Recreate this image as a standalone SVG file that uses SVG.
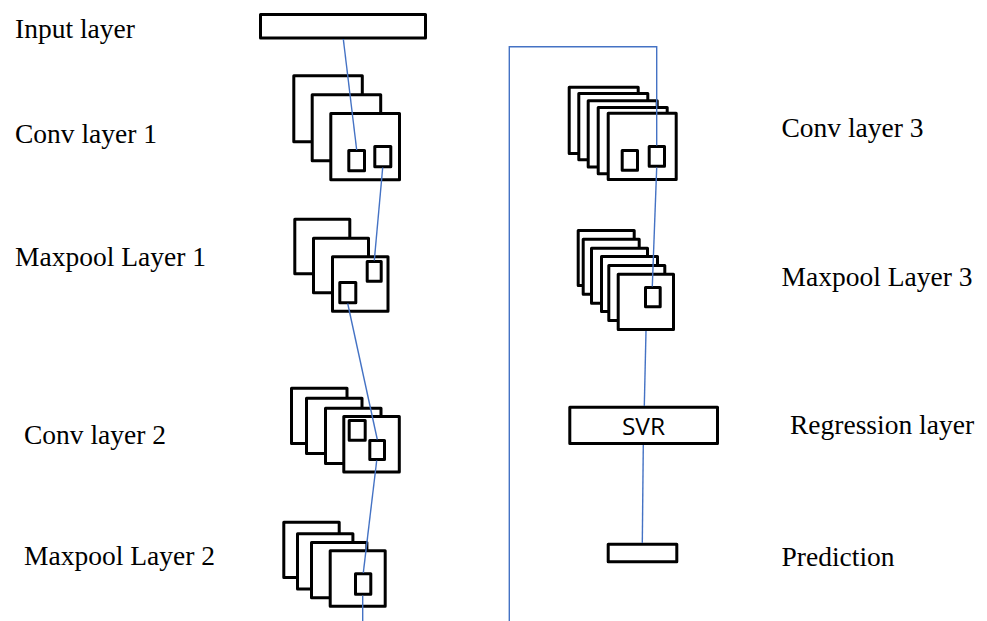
<svg xmlns="http://www.w3.org/2000/svg" width="987" height="621" viewBox="0 0 987 621">
  <style>
    .box { fill: #ffffff; stroke: #000000; stroke-width: 3; stroke-linejoin: round; }
    .lbl { font-family: "Liberation Serif", "Times New Roman", serif; font-size: 27.5px; fill: #000000; }
    .inner { font-family: "Open Sans", "Liberation Sans", sans-serif; font-size: 24.5px; fill: #000000; text-anchor: middle; }
    .link { fill: none; stroke: #4472C4; stroke-width: 1.4; }
  </style>
  <rect width="987" height="621" fill="#ffffff"/>

  <!-- labels -->
  <g id="labels">
    <text class="lbl" x="15" y="37.5">Input layer</text>
    <text class="lbl" x="15" y="142.5">Conv layer 1</text>
    <text class="lbl" x="15" y="265.5">Maxpool Layer 1</text>
    <text class="lbl" x="24" y="444">Conv layer 2</text>
    <text class="lbl" x="24" y="564.5">Maxpool Layer 2</text>
    <text class="lbl" x="781.5" y="137">Conv layer 3</text>
    <text class="lbl" x="781.5" y="285.5">Maxpool Layer 3</text>
    <text class="lbl" x="790" y="434">Regression layer</text>
    <text class="lbl" x="781.5" y="565.5">Prediction</text>
  </g>

  <!-- input -->
  <g id="input-layer">
    <rect class="box" x="260.5" y="14.5" width="165" height="23.5"/>
  </g>

  <!-- conv 1: three feature maps -->
  <g id="conv-layer-1">
    <rect class="box" x="293.8" y="75.8" width="68.5" height="66"/>
    <rect class="box" x="312.2" y="94.8" width="68.5" height="66"/>
    <rect class="box" x="330.8" y="113.5" width="68.7" height="66.3"/>
    <rect class="box" x="348.8" y="150.5" width="15.7" height="20.3"/>
    <rect class="box" x="374.8" y="146.5" width="16" height="20.3"/>
  </g>

  <!-- maxpool 1 -->
  <g id="maxpool-layer-1">
    <rect class="box" x="294.8" y="219.2" width="55" height="54.5"/>
    <rect class="box" x="313.5" y="238.2" width="55" height="54.5"/>
    <rect class="box" x="332.5" y="256.8" width="55.5" height="54.5"/>
    <rect class="box" x="367.2" y="261.5" width="14" height="19.7"/>
    <rect class="box" x="339.8" y="282.5" width="16" height="20.3"/>
  </g>

  <!-- conv 2: four feature maps -->
  <g id="conv-layer-2">
    <rect class="box" x="291.5" y="388.2" width="55.5" height="55.3"/>
    <rect class="box" x="306.5" y="398.2" width="55.5" height="55.3"/>
    <rect class="box" x="325.5" y="408.2" width="55.5" height="55.3"/>
    <rect class="box" x="343.8" y="416.5" width="55.5" height="55.5"/>
    <rect class="box" x="349.2" y="420.5" width="16" height="19.7"/>
    <rect class="box" x="369.8" y="440.5" width="14.7" height="19"/>
  </g>

  <!-- maxpool 2 -->
  <g id="maxpool-layer-2">
    <rect class="box" x="283.8" y="522.2" width="55.4" height="55.3"/>
    <rect class="box" x="297.5" y="533.8" width="55.4" height="55.3"/>
    <rect class="box" x="311.5" y="542.5" width="55.4" height="55.3"/>
    <rect class="box" x="330.2" y="550.8" width="55" height="55.4"/>
    <rect class="box" x="355.5" y="573.8" width="15.3" height="20.4"/>
  </g>

  <!-- conv 3: five feature maps -->
  <g id="conv-layer-3">
    <rect class="box" x="569.2" y="87.2" width="69" height="66.3"/>
    <rect class="box" x="578.8" y="93.5" width="69" height="66.3"/>
    <rect class="box" x="588.2" y="100.8" width="69" height="66.3"/>
    <rect class="box" x="598.2" y="107.5" width="69" height="66.3"/>
    <rect class="box" x="608.2" y="113.2" width="68" height="66.3"/>
    <rect class="box" x="622.2" y="150.5" width="15.3" height="19.7"/>
    <rect class="box" x="649.2" y="146.5" width="15.3" height="19.7"/>
  </g>

  <!-- maxpool 3: six feature maps -->
  <g id="maxpool-layer-3">
    <rect class="box" x="578.2" y="230.5" width="56" height="55"/>
    <rect class="box" x="583.2" y="239.2" width="56" height="55"/>
    <rect class="box" x="591.5" y="248.2" width="56" height="55"/>
    <rect class="box" x="601.5" y="256.5" width="56" height="55"/>
    <rect class="box" x="608.8" y="265.5" width="56" height="55"/>
    <rect class="box" x="618.2" y="274.2" width="55.3" height="55.3"/>
    <rect class="box" x="645.5" y="287.5" width="14.7" height="19.3"/>
  </g>

  <!-- regression -->
  <g id="svr">
    <rect class="box" x="569.8" y="407.2" width="147.7" height="36.3"/>
    <text class="inner" x="643.5" y="434.5">SVR</text>
  </g>

  <!-- output -->
  <g id="prediction">
    <rect class="box" x="608.2" y="544.2" width="68.6" height="17.6"/>
  </g>

  <!-- data flow -->
  <g id="connectors">
    <line class="link" x1="343.3" y1="39" x2="356.7" y2="150"/>
    <line class="link" x1="382.7" y1="167.5" x2="374.3" y2="260.5"/>
    <line class="link" x1="347.7" y1="303.5" x2="377.3" y2="439.5"/>
    <line class="link" x1="376.7" y1="460.5" x2="363.3" y2="572.8"/>
    <line class="link" x1="362.7" y1="595.5" x2="362.7" y2="621"/>
    <polyline class="link" points="509.3,621 509.3,46.7 656.7,46.7 656.7,145.5"/>
    <line class="link" x1="656.7" y1="167.5" x2="652.3" y2="286.5"/>
    <line class="link" x1="646" y1="331" x2="644.3" y2="406"/>
    <line class="link" x1="643.3" y1="445" x2="642.3" y2="543"/>
  </g>
</svg>
